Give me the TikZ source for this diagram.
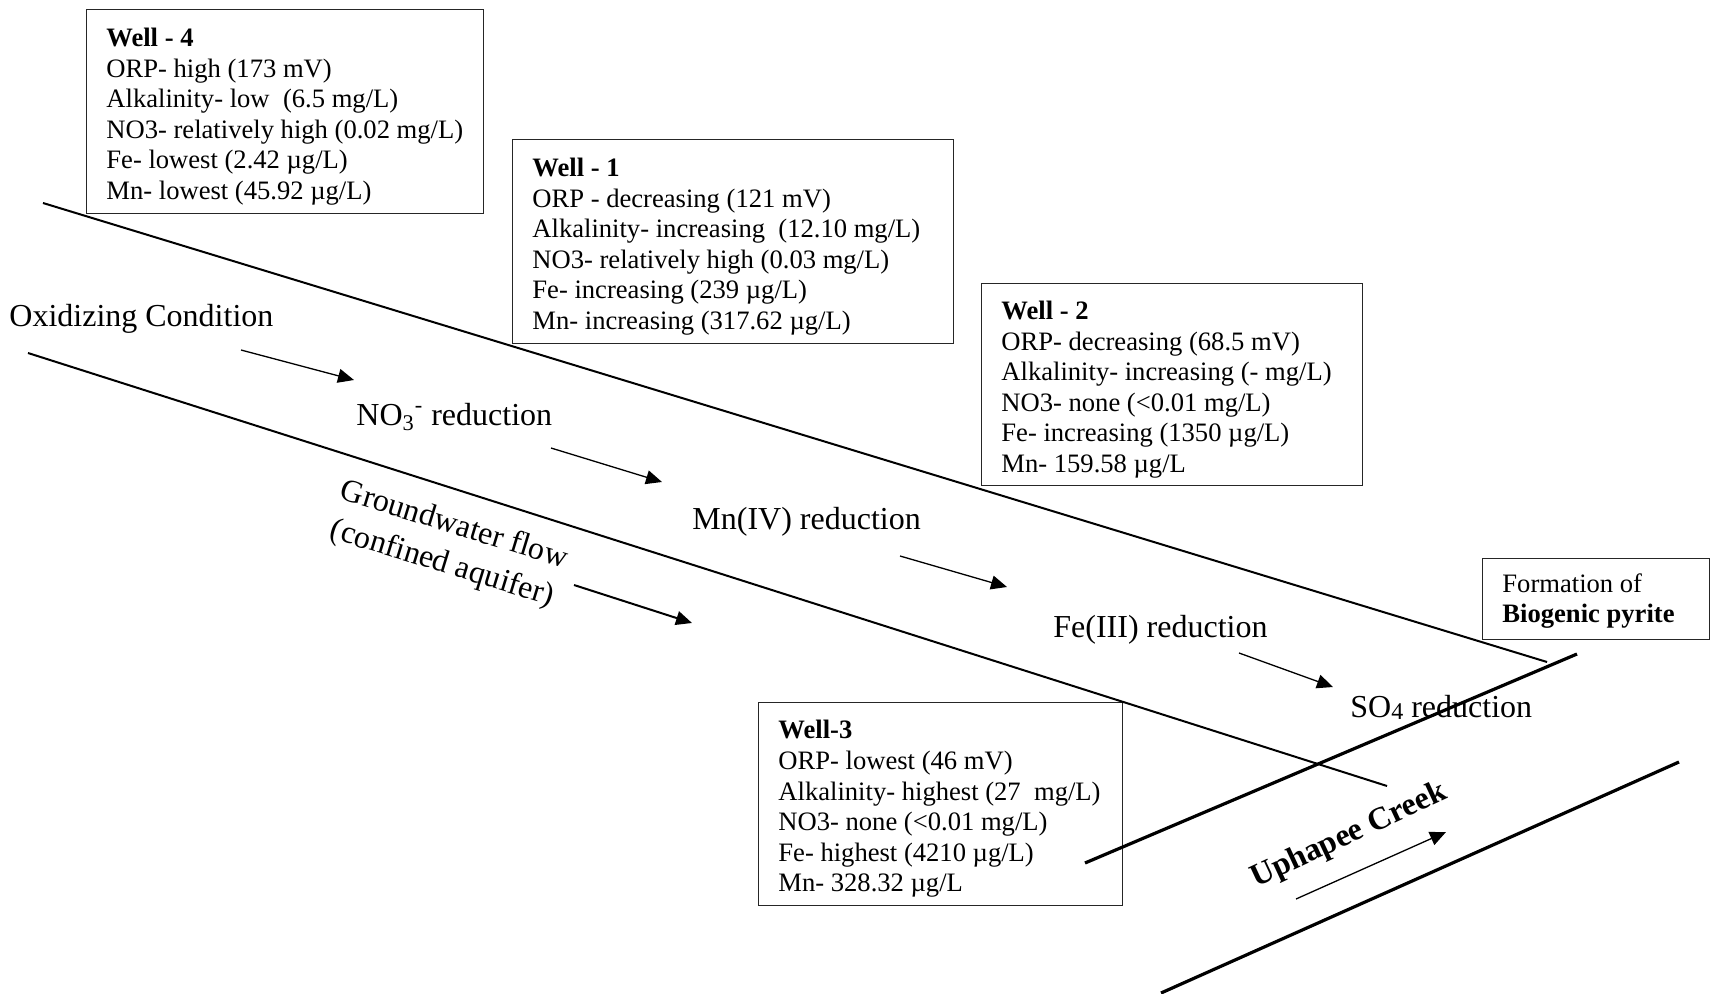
\documentclass[tikz,border=0pt]{standalone}
\usepackage{fontspec}
\setmainfont{Liberation Serif}
\usetikzlibrary{arrows.meta}
\begin{document}
\begin{tikzpicture}[x=0.5pt,y=-0.5pt,
  boxframe/.style={draw=black!85, line width=0.6pt, inner sep=0pt, anchor=north west},
  boxtext/.style={anchor=west, align=left, inner sep=0pt, font=\fontsize{13.3pt}{15.3pt}\selectfont},
  biglabel/.style={anchor=base west, inner sep=0pt, font=\fontsize{16pt}{19pt}\selectfont},
  mainline/.style={line width=1pt},
  creekline/.style={line width=1.6pt},
  flowarrow/.style={line width=0.65pt, -{Triangle[length=8pt,width=7pt]}},
  gwarrow/.style={line width=1pt, -{Triangle[length=8pt,width=7pt]}},
]
\useasboundingbox (0,0) rectangle (1716,994);

% boxes
\node[boxframe, minimum width=198.5pt, minimum height=102pt] (w4) at (86,9) {};
\node[boxtext] (w4t) at ([xshift=10pt,yshift=-2.5pt]w4.west) {\textbf{Well - 4}\\ORP- high (173 mV)\\Alkalinity- low\ \ (6.5 mg/L)\\NO3- relatively high (0.02 mg/L)\\Fe- lowest (2.42 µg/L)\\Mn- lowest (45.92 µg/L)};

\node[boxframe, minimum width=220.5pt, minimum height=102pt] (w1) at (512,139) {};
\node[boxtext] (w1t) at ([xshift=10pt,yshift=-2.5pt]w1.west) {\textbf{Well - 1}\\ORP - decreasing (121 mV)\\Alkalinity- increasing\ \ (12.10 mg/L)\\NO3- relatively high (0.03 mg/L)\\Fe- increasing (239 µg/L)\\Mn- increasing (317.62 µg/L)};

\node[boxframe, minimum width=190.5pt, minimum height=101pt] (w2) at (981,283) {};
\node[boxtext] (w2t) at ([xshift=10pt,yshift=-2.5pt]w2.west) {\textbf{Well - 2}\\ORP- decreasing (68.5 mV)\\Alkalinity- increasing (- mg/L)\\NO3- none (<0.01 mg/L)\\Fe- increasing (1350 µg/L)\\Mn- 159.58 µg/L};

\node[boxframe, minimum width=182pt, minimum height=101.5pt] (w3) at (758,702) {};
\node[boxtext] (w3t) at ([xshift=10pt,yshift=-2.5pt]w3.west) {\textbf{Well-3}\\ORP- lowest (46 mV)\\Alkalinity- highest (27\ \ mg/L)\\NO3- none (<0.01 mg/L)\\Fe- highest (4210 µg/L)\\Mn- 328.32 µg/L};

\node[boxframe, minimum width=113.5pt, minimum height=40.5pt] (fp) at (1482,558) {};
\node[boxtext] (fpt) at ([xshift=10pt,yshift=-1pt]fp.west) {Formation of\\\textbf{Biogenic pyrite}};

% labels
\node[biglabel] (ox) at (9,327) {Oxidizing Condition};
\node[biglabel] (no3) at (356,425) {NO\textsubscript{3}\textsuperscript{-} reduction};
\node[biglabel] (mn) at (692,529) {Mn(IV) reduction};
\node[biglabel] (fe) at (1053,637) {Fe(III) reduction};
\node[biglabel] (so4) at (1350,717) {SO\raisebox{-0.2ex}{\fontsize{12pt}{12pt}\selectfont 4} reduction};
\node[align=center, inner sep=0pt, rotate=-17, font=\fontsize{16pt}{20pt}\selectfont] (gw) at (448,545) {Groundwater flow\\(confined aquifer)};
\node[inner sep=0pt, rotate=25, font=\fontsize{16pt}{19pt}\selectfont\bfseries] (uc) at (1349,836) {Uphapee Creek};

% aquifer and creek lines
\coordinate (u1) at (43,203);  \coordinate (u2) at (1547,662);
\coordinate (l1) at (28,353);  \coordinate (l2) at (1387,786);
\coordinate (c1) at (1085,863); \coordinate (c2) at (1577,654);
\coordinate (d1) at (1161,993); \coordinate (d2) at (1679,762);
\draw[mainline] (u1) -- (u2);
\draw[mainline] (l1) -- (l2);
\draw[creekline] (c1) -- (c2);
\draw[creekline] (d1) -- (d2);

% flow arrows
\coordinate (a1s) at (241,350); \coordinate (a1e) at (354,380);
\coordinate (a2s) at (551,448); \coordinate (a2e) at (662,482);
\coordinate (a3s) at (574,585); \coordinate (a3e) at (692,623);
\coordinate (a4s) at (900,556); \coordinate (a4e) at (1007,587);
\coordinate (a5s) at (1239,653); \coordinate (a5e) at (1333,687);
\coordinate (a6s) at (1296,899); \coordinate (a6e) at (1446,832);
\draw[flowarrow] (a1s) -- (a1e);
\draw[flowarrow] (a2s) -- (a2e);
\draw[gwarrow] (a3s) -- (a3e);
\draw[flowarrow] (a4s) -- (a4e);
\draw[flowarrow] (a5s) -- (a5e);
\draw[flowarrow] (a6s) -- (a6e);
\end{tikzpicture}
\end{document}
